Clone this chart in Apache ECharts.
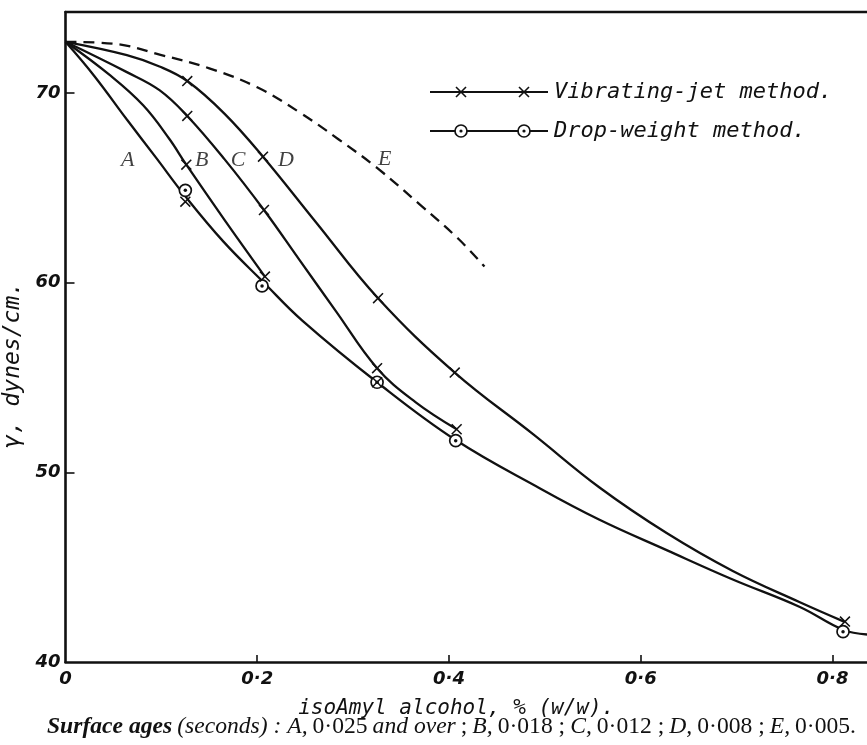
<!DOCTYPE html>
<html>
<head>
<meta charset="utf-8">
<style>
  html, body { margin: 0; padding: 0; background: #fff; }
  #chart { width: 867px; height: 745px; }
</style>
<script src="https://cdn.jsdelivr.net/npm/echarts@6/dist/echarts.min.js"></script>
</head>
<body>
<div id="chart"></div>
<script>
// points: [isoAmyl alcohol %, gamma dynes/cm]
var curveA = [[0, 72.7], [0.03, 70.9], [0.064, 68.6], [0.095, 66.55], [0.125, 64.55], [0.165, 62.15],
  [0.206, 60.05], [0.247, 58.0], [0.325, 54.75], [0.407, 51.7], [0.495, 49.15], [0.557, 47.5],
  [0.627, 45.9], [0.696, 44.35], [0.766, 42.9], [0.811, 41.7], [0.836, 41.45]];
var curveB = [[0, 72.7], [0.046, 70.95], [0.081, 69.35], [0.108, 67.6], [0.126, 66.22], [0.166, 63.3], [0.208, 60.32]];
var curveC = [[0, 72.7], [0.064, 71.1], [0.098, 70.15], [0.127, 68.79], [0.166, 66.5], [0.207, 63.83],
  [0.244, 61.2], [0.282, 58.5], [0.325, 55.49], [0.365, 53.7], [0.408, 52.27]];
var curveD = [[0, 72.7], [0.064, 72.0], [0.098, 71.4], [0.127, 70.63], [0.166, 68.9], [0.206, 66.64],
  [0.261, 63.2], [0.326, 59.18], [0.406, 55.26], [0.488, 52.0], [0.557, 49.2], [0.627, 46.8],
  [0.696, 44.8], [0.766, 43.15], [0.812, 42.13]];
var curveE = [[0, 72.7], [0.05, 72.6], [0.1, 72.0], [0.15, 71.3], [0.2, 70.3], [0.245, 68.95],
  [0.285, 67.55], [0.325, 66.05], [0.37, 64.1], [0.41, 62.3], [0.437, 60.85]];

// measured points
var jetPoints = [[0.125, 64.27], [0.126, 66.22], [0.127, 68.79], [0.127, 70.63], [0.208, 60.32], [0.207, 63.83],
  [0.206, 66.64], [0.325, 54.75], [0.325, 55.49], [0.326, 59.18], [0.408, 52.27], [0.406, 55.26], [0.813, 42.13]];
var dropPoints = [[0.125, 64.87], [0.205, 59.83], [0.325, 54.75], [0.407, 51.67], [0.811, 41.6]];

// curve letters
var curveLabels = [['A', 0.065, 66.45], ['B', 0.142, 66.45], ['C', 0.18, 66.45], ['D', 0.23, 66.45], ['E', 0.333, 66.5]];

var xTicks = [0, 0.2, 0.4, 0.6, 0.8];
var xTickLabels = ['0', '0·2', '0·4', '0·6', '0·8'];
var yTicks = [40, 50, 60, 70];

var chart = echarts.init(document.getElementById('chart'));
var ink = '#111';
var crossPath = 'path://M1,0L10,9L9,10L0,1ZM9,0L10,1L1,10L0,9Z';
var handFont = 'DejaVu Sans';
var letterFont = 'DejaVu Sans Mono';

function curve(name, data, dashed) {
  return {
    name: name,
    type: 'line',
    data: data,
    smooth: 0.4,
    symbol: 'none',
    silent: true,
    lineStyle: { color: ink, width: 2.3, type: dashed ? [11, 7] : 'solid' },
    z: 2
  };
}

// legend drawn by hand, as in the figure
var legendGraphics = [];
[{ y: 92, text: 'Vibrating-jet method.', mark: 'cross' },
 { y: 131, text: 'Drop-weight method.', mark: 'circle' }].forEach(function (row) {
  legendGraphics.push({ type: 'line', shape: { x1: 430, y1: row.y, x2: 548, y2: row.y }, style: { stroke: ink, lineWidth: 2 } });
  [461, 524].forEach(function (cx) {
    if (row.mark === 'cross') {
      legendGraphics.push({ type: 'line', shape: { x1: cx - 5, y1: row.y - 5, x2: cx + 5, y2: row.y + 5 }, style: { stroke: ink, lineWidth: 1.6 } });
      legendGraphics.push({ type: 'line', shape: { x1: cx - 5, y1: row.y + 5, x2: cx + 5, y2: row.y - 5 }, style: { stroke: ink, lineWidth: 1.6 } });
    } else {
      legendGraphics.push({ type: 'circle', shape: { cx: cx, cy: row.y, r: 6 }, style: { fill: '#fff', stroke: ink, lineWidth: 1.7 } });
      legendGraphics.push({ type: 'circle', shape: { cx: cx, cy: row.y, r: 1.6 }, style: { fill: ink } });
    }
  });
  legendGraphics.push({
    type: 'text', x: 554, y: row.y,
    style: { text: row.text, fill: ink, font: 'italic 22px "DejaVu Sans Mono"', textVerticalAlign: 'middle' }
  });
});

var option = {
  animation: false,
  backgroundColor: '#fff',
  grid: { left: 65.5, top: 12, right: 0, bottom: 83, outerBoundsMode: 'none' },
  title: {
    left: 42,
    bottom: 1,
    text: '{b|Surface ages} {i|(seconds) : A,} {n|0·025} {i|and over} {n|;} {i|B,} {n|0·018 ;} {i|C,} {n|0·012 ;} {i|D,} {n|0·008 ;} {i|E,} {n|0·005.}',
    textStyle: {
      fontWeight: 'normal',
      rich: {
        b: { fontFamily: 'Liberation Serif', fontStyle: 'italic', fontWeight: 'bold', fontSize: 23.6, color: ink },
        i: { fontFamily: 'Liberation Serif', fontStyle: 'italic', fontWeight: 'normal', fontSize: 23.6, color: ink },
        n: { fontFamily: 'Liberation Serif', fontWeight: 'normal', fontSize: 23.6, color: ink }
      }
    }
  },
  graphic: legendGraphics,
  xAxis: [{
    type: 'value',
    min: 0,
    max: 0.836,
    name: 'isoAmyl alcohol, % (w/w).',
    nameLocation: 'middle',
    nameGap: 36,
    nameTextStyle: { fontFamily: letterFont, fontStyle: 'italic', fontSize: 21, color: ink, padding: [0, 0, 0, -20] },
    axisLine: { lineStyle: { color: ink, width: 2.6 } },
    axisTick: { inside: true, length: 7, customValues: xTicks.slice(1), lineStyle: { color: ink, width: 1.6 } },
    axisLabel: {
      customValues: xTicks,
      margin: 8,
      fontFamily: handFont, fontStyle: 'italic', fontWeight: 'bold', fontSize: 18, color: ink,
      formatter: function (v) { return xTickLabels[Math.round(v / 0.2)]; }
    },
    splitLine: { show: false }
  }, {
    // top border of the frame
    type: 'value', position: 'top', min: 0, max: 0.836,
    axisLine: { lineStyle: { color: ink, width: 2.4 } },
    axisTick: { show: false }, axisLabel: { show: false }, splitLine: { show: false }
  }],
  yAxis: {
    type: 'value',
    min: 40,
    max: 74.27,
    name: 'γ, dynes/cm.',
    nameLocation: 'middle',
    nameGap: 27,
    nameTextStyle: { fontFamily: letterFont, fontStyle: 'italic', fontSize: 23, color: ink, padding: [0, 56, 0, 0] },
    axisLine: { show: true, lineStyle: { color: ink, width: 2.6 } },
    axisTick: { inside: true, length: 9, customValues: yTicks.slice(1), lineStyle: { color: ink, width: 1.6 } },
    axisLabel: {
      customValues: yTicks,
      margin: 5,
      fontFamily: handFont, fontStyle: 'italic', fontWeight: 'bold', fontSize: 18, color: ink
    },
    splitLine: { show: false }
  },
  series: [
    curve('A', curveA),
    curve('B', curveB),
    curve('C', curveC),
    curve('D', curveD),
    curve('E', curveE, true),
    {
      name: 'Drop-weight method.',
      type: 'scatter',
      data: dropPoints,
      symbol: 'circle',
      symbolSize: 12,
      itemStyle: { color: '#fff', borderColor: ink, borderWidth: 1.7, opacity: 1 },
      z: 4
    },
    {
      name: 'drop centre',
      type: 'scatter',
      data: dropPoints,
      symbol: 'circle',
      symbolSize: 3.5,
      itemStyle: { color: ink, opacity: 1 },
      z: 5
    },
    {
      name: 'Vibrating-jet method.',
      type: 'scatter',
      data: jetPoints,
      symbol: crossPath,
      symbolSize: 11,
      itemStyle: { color: ink, opacity: 1 },
      z: 6
    },
    {
      name: 'labels',
      type: 'scatter',
      data: curveLabels.map(function (l) { return { name: l[0], value: [l[1], l[2]] }; }),
      symbolSize: 0,
      silent: true,
      label: {
        show: true,
        position: 'inside',
        formatter: '{b}',
        fontFamily: 'Liberation Serif', fontStyle: 'italic', fontSize: 22, color: ink
      }
    }
  ]
};

option && chart.setOption(option);
</script>
</body>
</html>
